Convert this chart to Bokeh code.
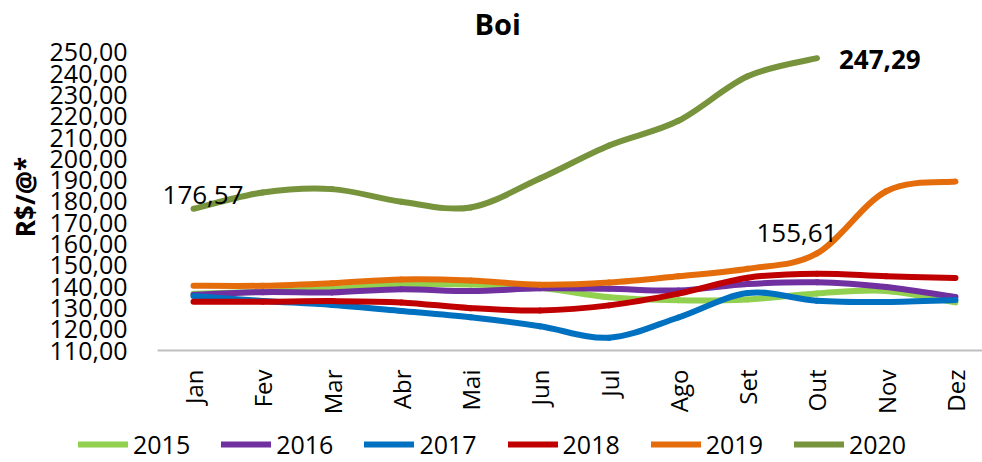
import math
from bokeh.plotting import figure
from bokeh.layouts import column
from bokeh.models import ColumnDataSource, FixedTicker, Label, Legend, LegendItem
from bokeh.embed import file_html
from bokeh.resources import INLINE

months = ["Jan", "Fev", "Mar", "Abr", "Mai", "Jun", "Jul", "Ago", "Set", "Out", "Nov", "Dez"]
years = ["2015", "2016", "2017", "2018", "2019", "2020"]

v2015 = [136.7, 137.6, 139.0, 141.0, 141.0, 139.5, 135.0, 133.6, 134.0, 136.8, 138.0, 132.6]
v2016 = [136.2, 137.4, 137.3, 138.8, 137.9, 139.2, 139.0, 138.2, 141.2, 142.0, 139.8, 135.1]
v2017 = [135.6, 133.3, 131.4, 128.6, 125.6, 121.4, 116.0, 125.5, 137.0, 133.4, 132.8, 133.7]
v2018 = [132.9, 132.9, 133.2, 132.6, 129.9, 128.8, 131.2, 136.7, 144.2, 146.1, 144.9, 144.1]
v2019 = [140.4, 140.4, 141.6, 143.4, 142.9, 140.9, 141.9, 144.9, 148.4, 155.61, 184.8, 189.4]
v2020 = [176.57, 184.2, 185.8, 179.9, 177.2, 190.8, 206.3, 217.9, 238.8, 247.29]

series = [v2015, v2016, v2017, v2018, v2019, v2020]
colors = ["#92D050", "#7030A0", "#0070C0", "#C00000", "#E46C0A", "#77933C"]

yticks = list(range(110, 251, 10))

FONT = "Open Sans"

p = figure(width=982, height=418, output_backend="svg", toolbar_location=None,
           x_range=(-0.52, 11.39), y_range=(110, 254.2),
           min_border_left=157, min_border_right=0, min_border_top=40, min_border_bottom=68,
           background_fill_color="white", border_fill_color="white")
p.frame_align = False
p.outline_line_color = None
p.xgrid.grid_line_color = None
p.ygrid.grid_line_color = None

p.title.text = "Boi"
p.title.text_font = FONT
p.title.text_font_style = "bold"
p.title.text_font_size = "29px"
p.title.text_color = "black"
p.title.align = "left"
p.title.offset = 317
p.title.standoff = 2


def bezier_source(vals):
    n = len(vals)
    pts = [(float(i), float(v)) for i, v in enumerate(vals)]
    d = dict(x0=[], y0=[], x1=[], y1=[], cx0=[], cy0=[], cx1=[], cy1=[])
    for i in range(n - 1):
        p0 = pts[max(i - 1, 0)]
        p1 = pts[i]
        p2 = pts[i + 1]
        p3 = pts[min(i + 2, n - 1)]
        d["x0"].append(p1[0]); d["y0"].append(p1[1])
        d["x1"].append(p2[0]); d["y1"].append(p2[1])
        d["cx0"].append(p1[0] + (p2[0] - p0[0]) / 6.0)
        d["cy0"].append(p1[1] + (p2[1] - p0[1]) / 6.0)
        d["cx1"].append(p2[0] - (p3[0] - p1[0]) / 6.0)
        d["cy1"].append(p2[1] - (p3[1] - p1[1]) / 6.0)
    return ColumnDataSource(d)


for yr, vals, col in zip(years, series, colors):
    p.bezier(x0="x0", y0="y0", x1="x1", y1="y1", cx0="cx0", cy0="cy0", cx1="cx1", cy1="cy1",
             source=bezier_source(vals), line_color=col, line_width=6, line_cap="round")

# axes
p.xaxis.ticker = FixedTicker(ticks=list(range(12)))
p.xaxis.major_label_overrides = {i: m for i, m in enumerate(months)}
p.xaxis.major_label_orientation = math.pi / 2
p.xaxis.axis_line_color = "#BFBFBF"
p.xaxis.axis_line_width = 2
p.xaxis.major_tick_line_color = None
p.xaxis.minor_tick_line_color = None
p.xaxis.major_label_text_font = FONT
p.xaxis.major_label_text_font_size = "24px"
p.xaxis.major_label_text_color = "black"
p.xaxis.major_label_standoff = 13

p.yaxis.ticker = FixedTicker(ticks=yticks)
p.yaxis.major_label_overrides = {t: f"{t},00" for t in yticks}
p.yaxis.axis_line_color = None
p.yaxis.major_tick_line_color = None
p.yaxis.minor_tick_line_color = None
p.yaxis.major_label_text_font = FONT
p.yaxis.major_label_text_font_size = "25px"
p.yaxis.major_label_text_color = "black"
p.yaxis.major_label_standoff = 24
p.yaxis.axis_label = "R$/@*"
p.yaxis.axis_label_text_font = FONT
p.yaxis.axis_label_text_font_style = "bold"
p.yaxis.axis_label_text_font_size = "26px"
p.yaxis.axis_label_text_color = "black"
p.yaxis.axis_label_standoff = 4

# data labels
p.add_layout(Label(x=0, y=v2020[0], text="176,57", x_offset=-31, y_offset=14,
                   text_font=FONT, text_font_size="26px", text_align="left",
                   text_baseline="middle", text_color="black"))
p.add_layout(Label(x=9, y=v2019[9], text="155,61", x_offset=-20, y_offset=20,
                   text_font=FONT, text_font_size="26px", text_align="center",
                   text_baseline="middle", text_color="black"))
p.add_layout(Label(x=9, y=v2020[9], text="247,29", x_offset=22, y_offset=-1,
                   text_font=FONT, text_font_size="26px", text_font_style="bold",
                   text_align="left", text_baseline="middle", text_color="black"))

# legend strip
pl = figure(width=982, height=44, output_backend="svg", toolbar_location=None,
            x_range=(0, 1), y_range=(0, 1), x_axis_type=None, y_axis_type=None,
            min_border_left=0, min_border_right=0, min_border_top=0, min_border_bottom=0,
            background_fill_color="white", border_fill_color="white")
pl.frame_align = False
pl.outline_line_color = None
pl.xgrid.grid_line_color = None
pl.ygrid.grid_line_color = None

items = []
nan = float("nan")
for yr, col in zip(years, colors):
    r = pl.line(x=[nan], y=[nan], line_color=col, line_width=6, line_cap="round")
    items.append(LegendItem(label=yr, renderers=[r]))

legend = Legend(items=items, orientation="horizontal", location=(78, 1),
                glyph_width=50, glyph_height=20, label_standoff=5, spacing=31,
                padding=0, margin=0, border_line_color=None, background_fill_alpha=0,
                label_text_font=FONT, label_text_font_size="25px", label_text_color="black")
pl.add_layout(legend, "center")

open("out.html", "w").write(file_html(column(p, pl), INLINE))
